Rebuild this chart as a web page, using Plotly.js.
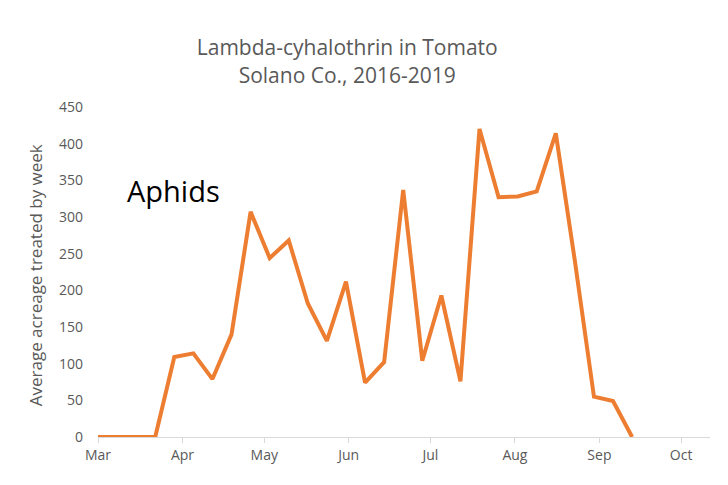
<!DOCTYPE html>
<html>
<head>
<meta charset="utf-8">
<script src="https://cdn.plot.ly/plotly-3.0.1.min.js"></script>
<style>html,body{margin:0;padding:0;background:#fff;}#chart{width:728px;height:485px;}</style>
</head>
<body>
<div id="chart"></div>
<script>
const weekDates = ["2019-03-01","2019-03-08","2019-03-15","2019-03-22","2019-03-29","2019-04-05","2019-04-12","2019-04-19","2019-04-26","2019-05-03","2019-05-10","2019-05-17","2019-05-24","2019-05-31","2019-06-07","2019-06-14","2019-06-21","2019-06-28","2019-07-05","2019-07-12","2019-07-19","2019-07-26","2019-08-02","2019-08-09","2019-08-16","2019-08-23","2019-08-30","2019-09-06","2019-09-13"];
const acreage = [0,0,0,0,109,114,79,140,307,244,268,182,131,212,74,102,337,104,193,76,420,327,328,335,414,240,55,49,0];
const monthTicks = ["2019-03-01","2019-04-01","2019-05-01","2019-06-01","2019-07-01","2019-08-01","2019-09-01","2019-10-01"];
const monthLabels = ["Mar","Apr","May","Jun","Jul","Aug","Sep","Oct"];
const yTicks = [0,50,100,150,200,250,300,350,400,450];

const font = "Open Sans, Lato, sans-serif";
const grey = "#595959";

Plotly.newPlot("chart", [{
  x: weekDates, y: acreage, type: "scatter", mode: "lines",
  line: {color: "#ED7D31", width: 4}, hoverinfo: "x+y"
}], {
  width: 728, height: 485,
  margin: {l: 98, r: 18, t: 107, b: 48},
  paper_bgcolor: "#fff", plot_bgcolor: "#fff",
  showlegend: false,
  title: {text: "Lambda-cyhalothrin in Tomato<br>Solano Co., 2016-2019", font: {family: font, size: 21, color: grey},
          x: 0.477, xanchor: "center", y: 0.886, yanchor: "middle", yref: "container"},
  xaxis: {type: "date", range: ["2019-03-01", "2019-10-11 14:00"], tickvals: monthTicks, ticktext: monthLabels,
          showgrid: false, zeroline: false, showline: true, linecolor: "#d9d9d9", linewidth: 1,
          ticks: "outside", ticklen: 5, tickcolor: "#d9d9d9",
          tickfont: {family: font, size: 14, color: grey}},
  yaxis: {range: [0, 450], tickvals: yTicks, showgrid: false, zeroline: false, showline: false,
          ticks: "", ticklabelstandoff: 14,
          tickfont: {family: font, size: 14, color: grey}},
  annotations: [
    {text: "Average acreage treated by week", xref: "paper", yref: "paper", x: -0.103, y: 0.49,
     xanchor: "center", yanchor: "middle", textangle: -90, showarrow: false,
     font: {family: font, size: 17, color: grey}},
    {text: "Aphids", xref: "paper", yref: "paper", x: 0.044, y: 0.748, xanchor: "left", yanchor: "middle",
     showarrow: false, font: {family: font, size: 29, color: "#000"}}]
}, {displayModeBar: false, staticPlot: true});
</script>
</body>
</html>
